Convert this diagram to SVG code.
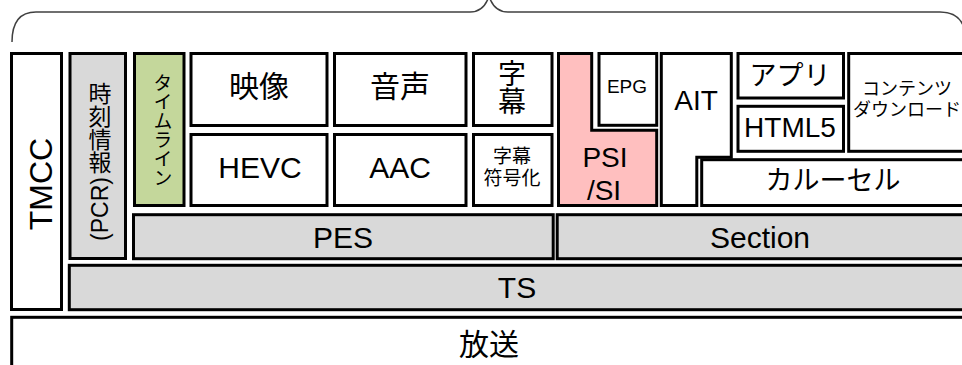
<svg xmlns="http://www.w3.org/2000/svg" width="962" height="365" viewBox="0 0 962 365">
<style>
.b{stroke:#000;stroke-width:3;stroke-linejoin:miter}
.w{fill:#fff}
.g{fill:#d9d9d9}
.gr{fill:#c4d79b}
.pk{fill:#ffbfbf}
text{font-family:"Liberation Sans","Noto Sans CJK JP",sans-serif;fill:#000;text-anchor:middle}
.v{writing-mode:vertical-rl}
</style>
<rect width="962" height="365" fill="#fff"/>
<g id="brace">
<path d="M12,42 Q12,12 36,12 L470,12 Q484,12 489,-4 Q494,12 508,12 L940,12 Q966,12 966,42" fill="none" stroke="#404040" stroke-width="1.5"/>
</g>
<g id="tmcc"><rect class="b w" x="11.5" y="53.5" width="50" height="256"/><text font-size="32" transform="translate(52,184) rotate(-90)">TMCC</text></g>
<g id="jikoku"><rect class="b g" x="70" y="53.5" width="55.5" height="205"/><text class="v" font-size="23" x="98" y="128">時刻情報</text><text font-size="23" transform="translate(108,209) rotate(-90)">(PCR)</text></g>
<g id="timeline"><rect class="b gr" x="134.5" y="53.5" width="49.5" height="152"/><text class="v" font-size="19" x="161" y="130">タイムライン</text></g>
<g id="eizo"><rect class="b w" x="191" y="53.5" width="136" height="72"/><text font-size="30" x="259" y="97">映像</text></g>
<g id="hevc"><rect class="b w" x="191" y="134.5" width="136" height="71"/><text font-size="30" x="260" y="178">HEVC</text></g>
<g id="onsei"><rect class="b w" x="334.5" y="53.5" width="131.5" height="72"/><text font-size="30" x="400" y="97">音声</text></g>
<g id="aac"><rect class="b w" x="334.5" y="134.5" width="131.5" height="71"/><text font-size="30" x="400" y="178">AAC</text></g>
<g id="jimaku"><rect class="b w" x="473.5" y="53.5" width="78.5" height="72"/><text font-size="28" x="512" y="84">字</text><text font-size="28" x="512" y="112">幕</text></g>
<g id="jimaku-fugo"><rect class="b w" x="473.5" y="134.5" width="78.5" height="71"/><text font-size="19" x="512" y="162.5">字幕</text><text font-size="19" x="512" y="184.5">符号化</text></g>
<g id="psisi"><path class="b pk" d="M558.5,53.5 H591.7 V130.3 H656.7 V205.5 H558.5 Z"/><text font-size="28" x="605" y="167">PSI</text><text font-size="28" x="604" y="200">/SI</text></g>
<g id="epg"><rect class="b w" x="599" y="53.5" width="57.7" height="71.8"/><text font-size="19" x="627" y="93">EPG</text></g>
<g id="ait"><path class="b w" d="M661.3,53.5 H731.3 V157.3 H696.8 V205.5 H661.3 Z"/><text font-size="28" x="696" y="110">AIT</text></g>
<g id="apuri"><rect class="b w" x="738" y="53.5" width="105.5" height="44.5"/><text font-size="27" x="790" y="85">アプリ</text></g>
<g id="html5"><rect class="b w" x="738" y="106.3" width="105.5" height="45"/><text font-size="28" x="790" y="137">HTML5</text></g>
<g id="contents-dl"><rect class="b w" x="848.7" y="53.5" width="125" height="97.8"/><text font-size="18" x="907" y="95">コンテンツ</text><text font-size="18" x="907" y="115.5">ダウンロード</text></g>
<g id="carousel"><rect class="b w" x="701.7" y="159.7" width="272" height="45.8"/><text font-size="27" x="833" y="189.5">カルーセル</text></g>
<g id="pes"><rect class="b g" x="133.5" y="214.7" width="419.7" height="44"/><text font-size="30" x="343" y="248">PES</text></g>
<g id="section"><rect class="b g" x="557.2" y="214.7" width="416" height="44"/><text font-size="30" x="760" y="248">Section</text></g>
<g id="ts"><rect class="b g" x="69.3" y="265.3" width="895.7" height="44.4"/><text font-size="30" x="517" y="298">TS</text></g>
<g id="hoso"><rect class="b w" x="11.7" y="317.3" width="960" height="80"/><text font-size="30" x="489" y="354.5">放送</text></g>
</svg>
